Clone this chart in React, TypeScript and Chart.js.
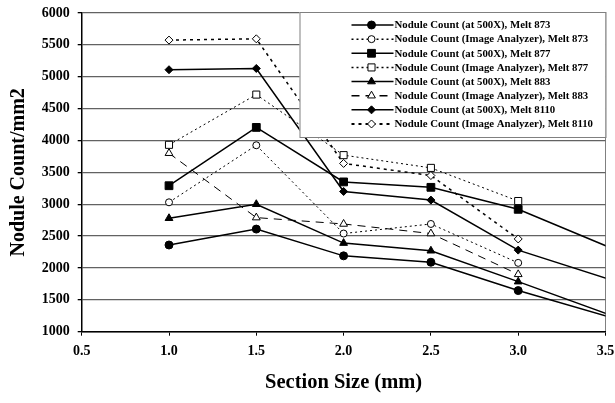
import React, { useEffect, useRef } from "react";
import { Chart, registerables } from "chart.js";

Chart.register(...registerables);

// Section sizes (mm); the last value lies beyond the visible axis range (clipped)
const sectionSizes = [1.0, 1.5, 2.0, 2.5, 3.0, 4.0];

const melt873At500X = [2360, 2610, 2190, 2090, 1645, 850];
const melt873Image = [3030, 3925, 2540, 2690, 2080];
const melt877At500X = [3290, 4205, 3350, 3265, 2920, 1780];
const melt877Image = [3932, 4720, 3770, 3570, 3050];
const melt883At500X = [2780, 3000, 2390, 2270, 1785, 790];
const melt883Image = [3800, 2790, 2690, 2540, 1900];
const melt8110At500X = [5110, 5130, 3200, 3065, 2280, 1400];
const melt8110Image = [5575, 5595, 3640, 3450, 2455];

const seriesLabels = [
  "Nodule Count (at 500X), Melt 873",
  "Nodule Count (Image Analyzer), Melt 873",
  "Nodule Count (at 500X), Melt 877",
  "Nodule Count (Image Analyzer), Melt 877",
  "Nodule Count (at 500X), Melt 883",
  "Nodule Count (Image Analyzer), Melt 883",
  "Nodule Count (at 500X), Melt 8110",
  "Nodule Count (Image Analyzer), Melt 8110",
];

const yTicks = [1000, 1500, 2000, 2500, 3000, 3500, 4000, 4500, 5000, 5500, 6000];
const xTicks = [0.5, 1.0, 1.5, 2.0, 2.5, 3.0, 3.5];

const FONT = "'Liberation Serif', 'Times New Roman', serif";

type Marker = "circle" | "rect" | "triangle" | "rectRot";

function toPoints(values: number[]) {
  return values.map((v, i) => ({ x: sectionSizes[i], y: v }));
}

function drawMarker(
  ctx: CanvasRenderingContext2D,
  style: Marker,
  x: number,
  y: number,
  r: number,
  fill: string
) {
  ctx.save();
  ctx.setLineDash([]);
  ctx.beginPath();
  if (style === "circle") {
    ctx.arc(x, y, r, 0, Math.PI * 2);
  } else if (style === "rect") {
    const s = r * Math.SQRT1_2;
    ctx.rect(x - s, y - s, 2 * s, 2 * s);
  } else if (style === "triangle") {
    ctx.moveTo(x, y - r);
    ctx.lineTo(x + r * 0.866, y + r * 0.5);
    ctx.lineTo(x - r * 0.866, y + r * 0.5);
    ctx.closePath();
  } else {
    ctx.moveTo(x, y - r);
    ctx.lineTo(x + r, y);
    ctx.lineTo(x, y + r);
    ctx.lineTo(x - r, y);
    ctx.closePath();
  }
  ctx.fillStyle = fill;
  ctx.fill();
  ctx.strokeStyle = "#000";
  ctx.lineWidth = 1;
  ctx.stroke();
  ctx.restore();
}

const legendPlugin = {
  id: "boxLegend",
  afterDraw(chart: any) {
    const { ctx, chartArea } = chart;
    const w = 306;
    const h = 125;
    const left = chartArea.right - w;
    const top = chartArea.top - 1;
    ctx.save();
    ctx.fillStyle = "#fff";
    ctx.fillRect(left, top, w, h);
    ctx.strokeStyle = "#808080";
    ctx.lineWidth = 1;
    ctx.strokeRect(left + 0.5, top + 0.5, w, h);
    chart.data.datasets.forEach((ds: any, i: number) => {
      const y = top + 13 + i * 14.14;
      ctx.save();
      ctx.strokeStyle = "#000";
      ctx.lineWidth = ds.legendLineWidth;
      ctx.setLineDash(ds.borderDash || []);
      ctx.beginPath();
      ctx.moveTo(left + 52, y);
      ctx.lineTo(left + 94, y);
      ctx.stroke();
      ctx.restore();
      drawMarker(ctx, ds.markerStyle, left + 72, y, ds.pointRadius, ds.pointBackgroundColor);
      ctx.fillStyle = "#000";
      ctx.font = `bold 10.8px ${FONT}`;
      ctx.textAlign = "left";
      ctx.textBaseline = "middle";
      ctx.fillText(ds.label, left + 95, y + 0.5);
    });
    ctx.restore();
  },
};

const zeroPad = (s: any) => {
  s.paddingLeft = 0;
  s.paddingRight = 0;
  s.paddingTop = 0;
  s.paddingBottom = 0;
};

export default function App() {
  const canvasRef = useRef<HTMLCanvasElement | null>(null);

  useEffect(() => {
    if (!canvasRef.current) return;

    const solid = (label: string, values: number[], marker: Marker, radius: number) => ({
      label,
      data: toPoints(values),
      borderColor: "#000",
      borderWidth: 1.5,
      legendLineWidth: 1.5,
      borderDash: [],
      pointStyle: marker,
      markerStyle: marker,
      pointRadius: radius,
      pointHoverRadius: radius,
      pointBackgroundColor: "#000",
      pointBorderColor: "#000",
      pointBorderWidth: 1,
      tension: 0,
    });
    const dashed = (
      label: string,
      values: number[],
      marker: Marker,
      radius: number,
      dash: number[],
      width: number
    ) => ({
      label,
      data: toPoints(values),
      borderColor: "#000",
      borderWidth: width,
      legendLineWidth: width + 0.5,
      borderDash: dash,
      pointStyle: marker,
      markerStyle: marker,
      pointRadius: radius,
      pointHoverRadius: radius,
      pointBackgroundColor: "#fff",
      pointBorderColor: "#000",
      pointBorderWidth: 1,
      tension: 0,
    });

    const datasets: any[] = [
      solid(seriesLabels[0], melt873At500X, "circle", 4),
      dashed(seriesLabels[1], melt873Image, "circle", 3.5, [2, 3], 1),
      solid(seriesLabels[2], melt877At500X, "rect", 5.5),
      dashed(seriesLabels[3], melt877Image, "rect", 5, [2, 3], 1),
      solid(seriesLabels[4], melt883At500X, "triangle", 4.5),
      dashed(seriesLabels[5], melt883Image, "triangle", 4.5, [8, 6], 1),
      solid(seriesLabels[6], melt8110At500X, "rectRot", 4),
      dashed(seriesLabels[7], melt8110Image, "rectRot", 4, [3, 4], 1.5),
    ];

    const chart = new Chart(canvasRef.current, {
      type: "line",
      data: { datasets },
      plugins: [legendPlugin],
      options: {
        animation: false,
        responsive: false,
        events: [],
        layout: { padding: { top: 13, right: 9.5, left: 0, bottom: 0 } },
        plugins: {
          legend: { display: false },
          tooltip: { enabled: false },
          title: { display: false },
        },
        scales: {
          x: {
            type: "linear",
            min: 0.5,
            max: 3.5,
            afterFit: (s: any) => {
              s.height = 71.3;
              zeroPad(s);
            },
            afterBuildTicks: (s: any) => {
              s.ticks = xTicks.map((v) => ({ value: v }));
            },
            ticks: {
              color: "#000",
              font: { family: FONT, size: 14, weight: "bold" },
              padding: 7,
              maxRotation: 0,
              callback: (v: any) => Number(v).toFixed(1),
            },
            grid: {
              color: (c: any) => (c.tick && c.tick.value === 3.5 ? "#808080" : "rgba(0,0,0,0)"),
              tickColor: "#000",
              tickLength: 4,
              lineWidth: 1,
            },
            border: { color: "#000", width: 1.5 },
            title: {
              display: true,
              text: "Section Size (mm)",
              color: "#000",
              font: { family: FONT, size: 20.5, weight: "bold" },
              padding: { top: 0, bottom: 8 },
            },
          },
          y: {
            type: "linear",
            min: 1000,
            max: 6000,
            afterFit: (s: any) => {
              s.width = 81.7;
              zeroPad(s);
            },
            afterBuildTicks: (s: any) => {
              s.ticks = yTicks.map((v) => ({ value: v }));
            },
            ticks: {
              color: "#000",
              font: { family: FONT, size: 14, weight: "bold" },
              padding: 8,
              callback: (v: any) => String(v),
            },
            grid: {
              color: "#626262",
              tickColor: "#000",
              tickLength: 4,
              lineWidth: 1.3,
            },
            border: { color: "#000", width: 1.5 },
            title: {
              display: true,
              text: "Nodule Count/mm2",
              color: "#000",
              font: { family: FONT, size: 20, weight: "bold" },
              padding: { top: 7, bottom: 0 },
            },
          },
        },
      } as any,
    });

    return () => chart.destroy();
  }, []);

  return (
    <div style={{ position: "absolute", left: 0, top: 0, width: 615, height: 403, background: "#fff" }}>
      <canvas ref={canvasRef} width={615} height={403} style={{ width: 615, height: 403, display: "block" }} />
    </div>
  );
}
